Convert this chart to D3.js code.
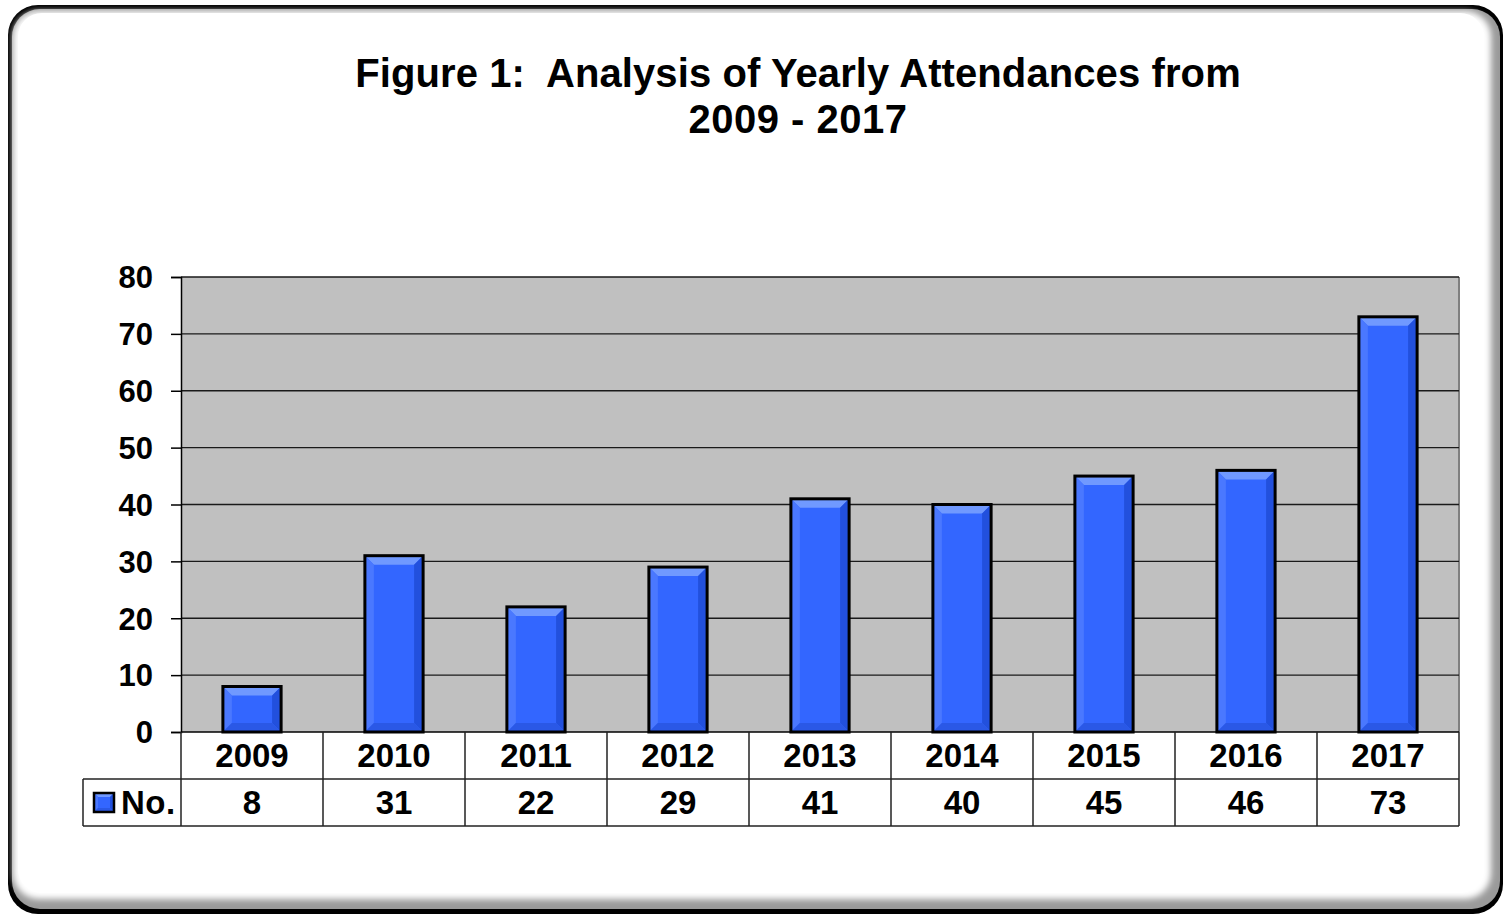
<!DOCTYPE html>
<html><head><meta charset="utf-8">
<script src="https://cdn.jsdelivr.net/npm/d3@7"></script>
<style>html,body{margin:0;padding:0;background:#fff;}svg{display:block;}</style>
</head><body>
<svg id="c" width="1503" height="914"></svg>
<script>
const categories = ["2009","2010","2011","2012","2013","2014","2015","2016","2017"];
const values = [8,31,22,29,41,40,45,46,73];
const seriesName = "No.";
const yTicks = [0,10,20,30,40,50,60,70,80];
const titleLines = ["Figure 1:  Analysis of Yearly Attendances from","2009 - 2017"];

const svg = d3.select("#c");
const FONT = "'Liberation Sans', Arial, sans-serif";
const defs = svg.append("defs");

const blur = defs.append("filter").attr("id","soft").attr("x","-5%").attr("y","-5%").attr("width","110%").attr("height","110%");
blur.append("feGaussianBlur").attr("stdDeviation",3);

svg.append("rect").attr("x",8).attr("y",5).attr("width",1495).attr("height",909).attr("rx",30).attr("fill","#000");
svg.append("rect").attr("x",12).attr("y",9).attr("width",1488).attr("height",900).attr("rx",28).attr("fill","#9a9a9a");
svg.append("rect").attr("x",13).attr("y",11).attr("width",1478).attr("height",888).attr("rx",26).attr("fill","#fff").attr("filter","url(#soft)");
svg.append("rect").attr("x",18).attr("y",13).attr("width",1466).attr("height",880).attr("rx",24).attr("fill","#fff");

// title
const title = svg.append("text").attr("font-family",FONT).attr("font-weight","bold").attr("font-size",40)
  .attr("text-anchor","middle").attr("fill","#000").attr("xml:space","preserve").style("white-space","pre");
titleLines.forEach((t,i)=>{
  title.append("tspan").attr("x",798).attr("y",87+i*46).attr("letter-spacing",i===1?0.5:0.1).text(t);
});

const plot = {x0:181, x1:1459, y0:277, y1:732};
const x = d3.scaleBand().domain(categories).range([plot.x0, plot.x1]).paddingInner(0.59).paddingOuter(0.295);
const xb = d3.scaleBand().domain(categories).range([plot.x0, plot.x1]);
const y = d3.scaleLinear().domain([0,80]).range([plot.y1, plot.y0]);

svg.append("rect").attr("x",plot.x0).attr("y",plot.y0).attr("width",plot.x1-plot.x0).attr("height",plot.y1-plot.y0)
  .attr("fill","#c0c0c0");
svg.append("line").attr("x1",plot.x1).attr("x2",plot.x1).attr("y1",plot.y0).attr("y2",plot.y1).attr("stroke","#808080").attr("stroke-width",2);

svg.append("g").selectAll("line").data(yTicks.filter(d=>d>0)).join("line")
  .attr("x1",plot.x0).attr("x2",plot.x1).attr("y1",d=>y(d)).attr("y2",d=>y(d))
  .attr("stroke","#1a1a1a").attr("stroke-width",1.3);

const yAxis = d3.axisLeft(y).tickValues(yTicks).tickSize(10).tickPadding(18);
const ya = svg.append("g").attr("transform",`translate(${plot.x0},0)`).call(yAxis);
ya.select(".domain").attr("stroke","#000").attr("stroke-width",1.5);
ya.selectAll(".tick line").attr("stroke","#000").attr("stroke-width",1.5);
ya.selectAll(".tick text").attr("font-family",FONT).attr("font-weight","bold").attr("font-size",31).attr("fill","#000").attr("dy","0.35em");

function bevelBar(g, bx, by, bw, bh, bev, sw) {
  const b = Math.min(bev, bw/2, bh/2);
  g.append("rect").attr("x",bx).attr("y",by).attr("width",bw).attr("height",bh).attr("fill","#3366ff");
  const poly = (pts, fill) => g.append("polygon").attr("points",pts.map(p=>p.join(",")).join(" ")).attr("fill",fill);
  poly([[bx,by],[bx+bw,by],[bx+bw-b,by+b],[bx+b,by+b]], "#7099ff");
  poly([[bx,by],[bx+b,by+b],[bx+b,by+bh-b],[bx,by+bh]], "#4a78ff");
  poly([[bx+bw,by],[bx+bw,by+bh],[bx+bw-b,by+bh-b],[bx+bw-b,by+b]], "#2250dd");
  poly([[bx,by+bh],[bx+b,by+bh-b],[bx+bw-b,by+bh-b],[bx+bw,by+bh]], "#2a58e6");
  g.append("rect").attr("x",bx).attr("y",by).attr("width",bw).attr("height",bh)
    .attr("fill","none").attr("stroke","#000").attr("stroke-width",sw);
}
const barsG = svg.append("g");
categories.forEach((c,i)=>{
  const g = barsG.append("g");
  bevelBar(g, x(c), y(values[i]), x.bandwidth(), y(0)-y(values[i]), 9, 3);
});

svg.append("line").attr("x1",plot.x0).attr("x2",plot.x1).attr("y1",plot.y1).attr("y2",plot.y1).attr("stroke","#000").attr("stroke-width",1.5);

const rowH = 47;
const r1 = plot.y1, r2 = plot.y1 + rowH, r3 = plot.y1 + 2*rowH;
const legendX0 = 83;
const tbl = svg.append("g").attr("stroke","#222").attr("stroke-width",1.5);
tbl.append("line").attr("x1",legendX0).attr("x2",plot.x1).attr("y1",r2).attr("y2",r2);
tbl.append("line").attr("x1",legendX0).attr("x2",plot.x1).attr("y1",r3).attr("y2",r3);
tbl.append("line").attr("x1",legendX0).attr("x2",legendX0).attr("y1",r2).attr("y2",r3);
const edges = categories.map(c=>xb(c)).concat([plot.x1]);
tbl.selectAll("line.v").data(edges).join("line").attr("class","v")
  .attr("x1",d=>d).attr("x2",d=>d).attr("y1",r1).attr("y2",r3);

const txt = svg.append("g").attr("font-family",FONT).attr("font-weight","bold").attr("font-size",33).attr("fill","#000").attr("text-anchor","middle");
txt.selectAll("text.cat").data(categories).join("text").attr("class","cat")
  .attr("x",d=>xb(d)+xb.bandwidth()/2).attr("y",(r1+r2)/2).attr("dy","0.35em").text(d=>d);
txt.selectAll("text.val").data(values).join("text").attr("class","val")
  .attr("x",(d,i)=>xb(categories[i])+xb.bandwidth()/2).attr("y",(r2+r3)/2).attr("dy","0.35em").text(d=>d);

const lg = svg.append("g");
bevelBar(lg, 94, 793, 20, 19, 4, 2.5);
lg.append("text").attr("x",121).attr("y",(r2+r3)/2).attr("dy","0.35em").attr("font-family",FONT)
  .attr("font-weight","bold").attr("font-size",33).attr("letter-spacing",0.5).attr("fill","#000").text(seriesName);
</script>
</body></html>
